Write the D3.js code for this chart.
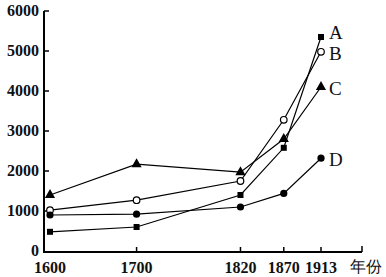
<!DOCTYPE html>
<html><head><meta charset="utf-8">
<script src="https://cdn.jsdelivr.net/npm/d3@7"></script>
<style>body{margin:0;background:#fff}svg{display:block}text{font-family:"Liberation Serif","DejaVu Serif",serif}</style>
</head><body>
<script>
const years = [1600, 1700, 1820, 1870, 1913];
const yTicks = [0, 1000, 2000, 3000, 4000, 5000, 6000];
const seriesA = [480, 600, 1400, 2580, 5350];
const seriesB = [1020, 1270, 1750, 3280, 4980];
const seriesC = [1400, 2170, 1970, 2800, 4100];
const seriesD = [900, 920, 1100, 1440, 2320];
const names = ["A", "B", "C", "D"];
const xUnit = "年份";

const W = 386, H = 277;
const svg = d3.select("body").append("svg").attr("width", W).attr("height", H);
const x = d3.scaleLinear().domain([1600, 1913]).range([50, 321]);
const y = d3.scaleLinear().domain([0, 6000]).range([251, 11]);
const axisX0 = 44, axisX1 = 362;

svg.append("line").attr("x1", axisX0).attr("x2", axisX0).attr("y1", y(6000)).attr("y2", y(0)+1)
  .attr("stroke", "#000").attr("stroke-width", 2);
svg.append("line").attr("x1", axisX0-1).attr("x2", axisX1).attr("y1", y(0)+1).attr("y2", y(0)+1)
  .attr("stroke", "#000").attr("stroke-width", 2);

yTicks.forEach(v => {
  if (v > 0) svg.append("line").attr("x1", axisX0).attr("x2", axisX0+5).attr("y1", y(v)).attr("y2", y(v)).attr("stroke", "#000").attr("stroke-width", 1.5);
  svg.append("text").attr("x", 39).attr("y", y(v)+5).attr("text-anchor", "end")
    .attr("font-size", 16).attr("font-weight", "bold").attr("fill", "#111").text(v);
});
years.forEach(v => {
  if (v > 1600) svg.append("line").attr("x1", x(v)).attr("x2", x(v)).attr("y1", y(0)+1).attr("y2", y(0)-4).attr("stroke", "#000").attr("stroke-width", 1.5);
  svg.append("text").attr("x", x(v)).attr("y", 273).attr("text-anchor", "middle")
    .attr("font-size", 16).attr("font-weight", "bold").attr("fill", "#111").text(v);
});
svg.append("line").attr("x1", axisX1).attr("x2", axisX1).attr("y1", y(0)+1).attr("y2", y(0)-5).attr("stroke", "#000").attr("stroke-width", 1.5);
svg.append("text").attr("x", 366).attr("y", 272).attr("text-anchor", "middle")
  .attr("font-family", "Noto Sans CJK SC").attr("font-size", 16).attr("fill", "#111").text(xUnit);

const line = d3.line().x((d,i) => x(years[i])).y(d => y(d));
const all = [seriesA, seriesB, seriesC, seriesD];
all.forEach(s => svg.append("path").attr("d", line(s)).attr("fill", "none").attr("stroke", "#000").attr("stroke-width", 1.2));

const g = svg.append("g");
seriesA.forEach((v,i) => g.append("rect").attr("x", x(years[i])-3).attr("y", y(v)-3).attr("width", 6).attr("height", 6).attr("fill", "#000"));
seriesB.forEach((v,i) => g.append("circle").attr("cx", x(years[i])).attr("cy", y(v)).attr("r", 3.3).attr("fill", "#fff").attr("stroke", "#000").attr("stroke-width", 1.2));
const tri = d3.symbol().type(d3.symbolTriangle).size(45);
seriesC.forEach((v,i) => g.append("path").attr("d", tri()).attr("transform", `translate(${x(years[i])},${y(v)})`).attr("fill", "#000"));
seriesD.forEach((v,i) => g.append("circle").attr("cx", x(years[i])).attr("cy", y(v)).attr("r", 3.6).attr("fill", "#000"));

const last = all.map(s => s[s.length-1]);
const offs = [[8, -4], [8, 2], [8, 2], [8, 2]];
names.forEach((n,i) => svg.append("text").attr("x", x(1913)+offs[i][0]).attr("y", y(last[i])+offs[i][1]+6)
  .attr("font-size", 19).attr("fill", "#111").text(n));
</script>
</body></html>
